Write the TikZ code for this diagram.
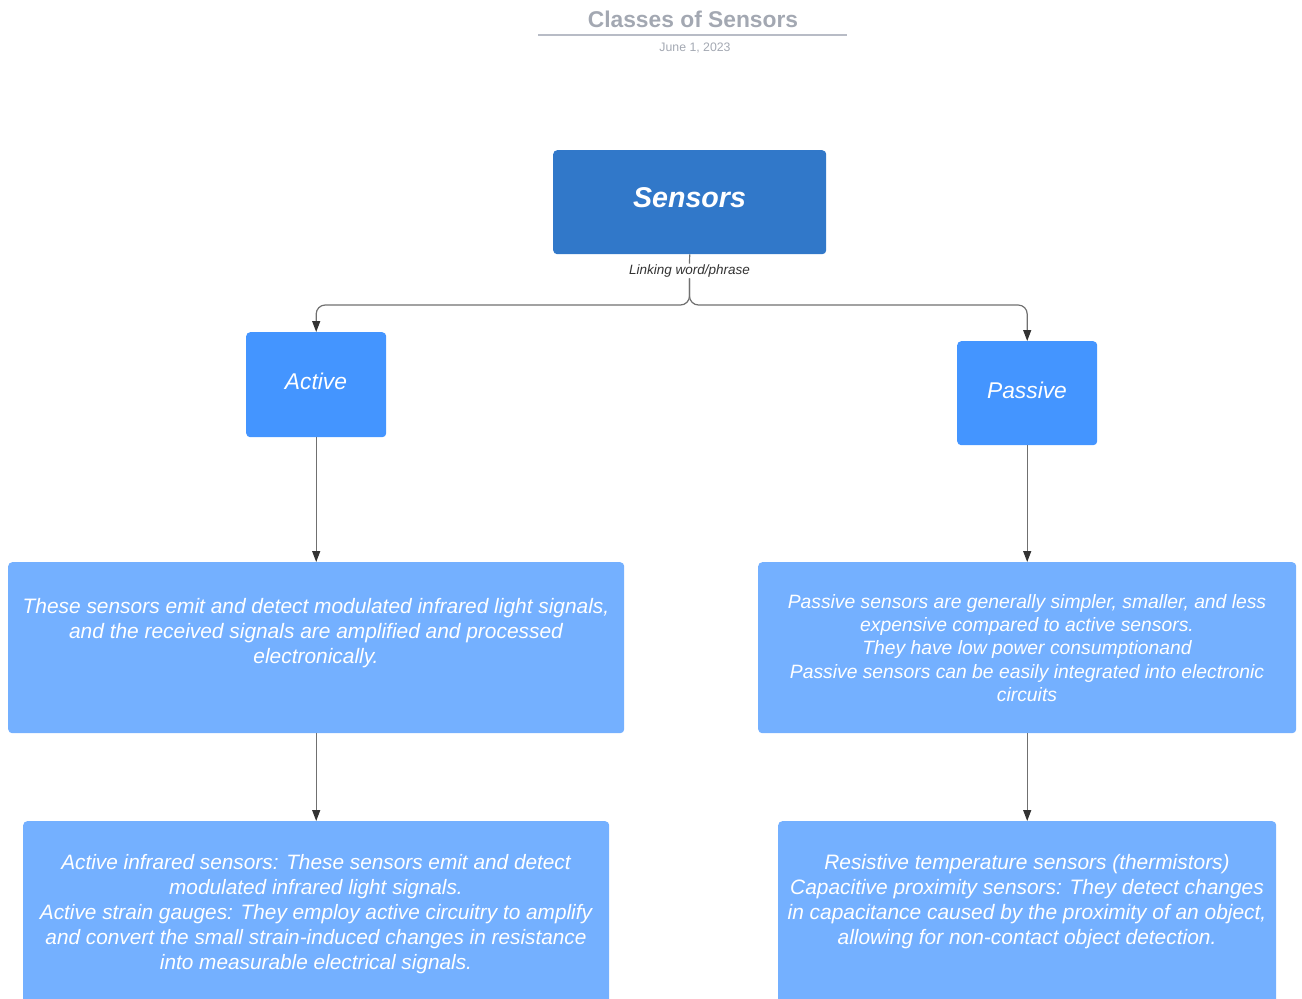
\documentclass[tikz,border=0pt]{standalone}
\usepackage{fontspec}
\setmainfont{Liberation Sans}
\usetikzlibrary{arrows.meta}
\definecolor{cDark}{HTML}{3178C9}
\definecolor{cMid}{HTML}{4495FF}
\definecolor{cLight}{HTML}{74B0FF}
\definecolor{cTitle}{HTML}{A3A8B2}
\definecolor{cRule}{HTML}{B8BCC6}
\definecolor{cLine}{HTML}{707070}
\definecolor{cTip}{HTML}{333333}
\begin{document}
\begin{tikzpicture}[x=1pt,y=-1pt,
  box/.style={draw=none, rounded corners=4pt, inner sep=0pt, anchor=north west},
  txt/.style={text=white, align=center, inner sep=0pt, font=\itshape},
  conn/.style={draw=cLine, line width=1.2pt, -{Triangle[length=11pt,width=8pt,fill=cTip,color=cTip]}},
  plain/.style={draw=cLine, line width=1.2pt}]
\useasboundingbox (0,0) rectangle (1302,999);
\clip (0,0) rectangle (1302,999);
% title
\node[inner sep=0pt, text=cTitle, font=\bfseries\fontsize{22.8}{26}\selectfont] (title) at (693,19) {Classes of Sensors};
\draw[cRule, line width=1.3pt] (538,35) -- (847,35);
\node[inner sep=0pt, text=cTitle, font=\fontsize{12.3}{14}\selectfont] (date) at (695,48) {June 1, 2023};
% boxes
\node[box, fill=cDark, minimum width=273pt, minimum height=104pt] (sensors) at (553,150) {};
\node[txt, font=\bfseries\itshape\fontsize{28.6}{34}\selectfont] (sensorsT) at (689.5,198) {Sensors};
\node[box, fill=cMid, minimum width=140pt, minimum height=105pt] (act) at (246,332) {};
\node[txt, font=\itshape\fontsize{22.8}{27}\selectfont] (actT) at (316,381) {Active};
\node[box, fill=cMid, minimum width=140pt, minimum height=104pt] (pas) at (957,341) {};
\node[txt, font=\itshape\fontsize{22.8}{27}\selectfont] (pasT) at (1027,390) {Passive};
\node[box, fill=cLight, minimum width=616pt, minimum height=171pt] (actd) at (8,562) {};
\node[txt, font=\itshape\fontsize{20.9}{25}\selectfont] (actdT) at (316,633) {These sensors emit and detect modulated infrared light signals,\\and the received signals are amplified and processed\\electronically.};
\node[box, fill=cLight, minimum width=538pt, minimum height=171pt] (pasd) at (758,562) {};
\node[txt, font=\itshape\fontsize{19.3}{23.3}\selectfont] (pasdT) at (1027,648) {Passive sensors are generally simpler, smaller, and less\\expensive compared to active sensors.\\They have low power consumptionand\\Passive sensors can be easily integrated into electronic\\circuits};
\node[box, fill=cLight, minimum width=586pt, minimum height=200pt] (actb) at (23,821) {};
\node[txt, font=\itshape\fontsize{20.8}{25}\selectfont] (actbT) at (316,914) {Active infrared sensors: These sensors emit and detect\\modulated infrared light signals.\\Active strain gauges: They employ active circuitry to amplify\\and convert the small strain-induced changes in resistance\\into measurable electrical signals.};
\node[box, fill=cLight, minimum width=498pt, minimum height=200pt] (pasb) at (778,821) {};
\node[txt, font=\itshape\fontsize{20.9}{25}\selectfont] (pasbT) at (1027,901.5) {Resistive temperature sensors (thermistors)\\Capacitive proximity sensors: They detect changes\\in capacitance caused by the proximity of an object,\\allowing for non-contact object detection.};
% connectors
\node[inner sep=1pt, fill=white, text=cTip, font=\itshape\fontsize{13.5}{16}\selectfont] (lbl) at (689.5,271) {Linking word/phrase};
\coordinate (split) at (689.5,305);
\draw[plain] (sensors.south) -- (lbl.north);
\draw[conn, rounded corners=9pt] (lbl.south) -- (split) -| (act.north);
\draw[conn, rounded corners=9pt] (lbl.south) -- (split) -| (pas.north);
\draw[conn] (act.south) -- (actd.north);
\draw[conn] (pas.south) -- (pasd.north);
\draw[conn] (actd.south) -- (actb.north);
\draw[conn] (pasd.south) -- (pasb.north);
\end{tikzpicture}
\end{document}
